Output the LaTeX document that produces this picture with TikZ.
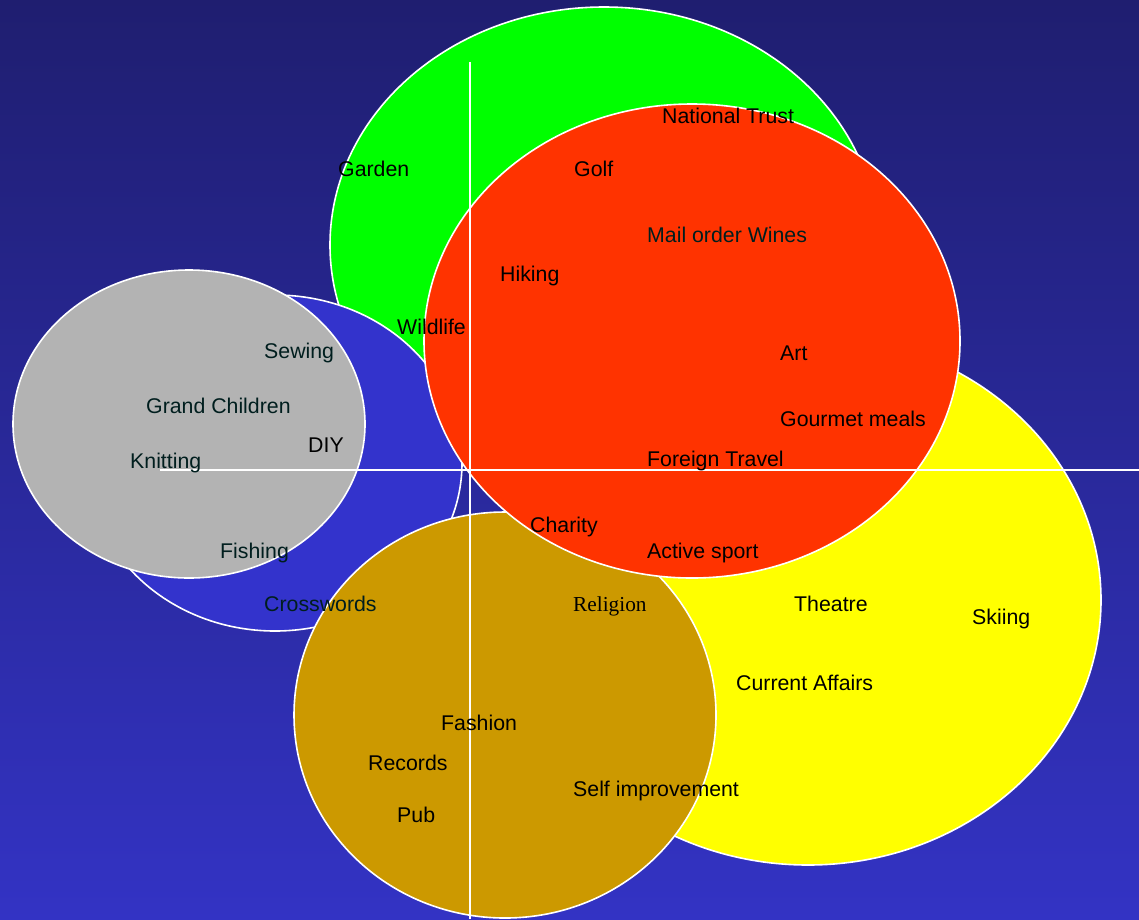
\documentclass[tikz,border=0pt]{standalone}
\usepackage{fontspec}
\setmainfont{Liberation Sans}
\newfontfamily\serifface{Liberation Serif}
\definecolor{bgtop}{RGB}{31,30,112}
\definecolor{bgbot}{RGB}{51,51,196}
\definecolor{cgreen}{RGB}{0,255,0}
\definecolor{cred}{RGB}{255,51,0}
\definecolor{cyellow}{RGB}{255,255,0}
\definecolor{cblue}{RGB}{51,51,204}
\definecolor{cbrown}{RGB}{204,153,0}
\definecolor{cgrey}{RGB}{179,179,179}
\definecolor{darktext}{RGB}{0,30,30}
\begin{document}
\begin{tikzpicture}[x=1pt,y=-1pt,
  blob/.style={draw=white,line width=1.6pt},
  axis/.style={draw=white,line width=1.6pt},
  lbl/.style={anchor=base west,inner sep=0pt,font=\fontsize{21.3}{25}\selectfont,text=black},
  dlbl/.style={lbl,text=darktext}]
\useasboundingbox (0,0) rectangle (1139,919);
\shade[top color=bgtop,bottom color=bgbot] (0,0) rectangle (1139,919);
% circles
\draw[blob,fill=cgreen] (604,245) ellipse [x radius=274,y radius=238];
\draw[blob,fill=cyellow] (808,600) ellipse [x radius=293,y radius=265];
\draw[blob,fill=cblue] (275,463) ellipse [x radius=187,y radius=168];
\draw[blob,fill=cbrown] (505,715) ellipse [x radius=211,y radius=203];
\draw[blob,fill=cred] (692,341) ellipse [x radius=268,y radius=237];
\draw[blob,fill=cgrey] (189,424) ellipse [x radius=176,y radius=154];
% axes
\coordinate (vtop) at (470,62);
\coordinate (vbot) at (470,919);
\coordinate (hleft) at (160,470);
\coordinate (hright) at (1139,470);
\draw[axis] (vtop) -- (vbot);
\draw[axis] (hleft) -- (hright);
% labels
\node[lbl] (nt) at (662,123) {National Trust};
\node[lbl] (garden) at (338,176) {Garden};
\node[lbl] (golf) at (574,176) {Golf};
\node[dlbl] (wines) at (647,242) {Mail order Wines};
\node[lbl] (hiking) at (500,281) {Hiking};
\node[lbl] (wildlife) at (397,334) {Wildlife};
\node[lbl] (art) at (780,360) {Art};
\node[dlbl] (sewing) at (264,358) {Sewing};
\node[dlbl] (grand) at (146,413) {Grand Children};
\node[lbl] (gourmet) at (780,426) {Gourmet meals};
\node[lbl] (diy) at (308,452) {DIY};
\node[lbl] (travel) at (647,466) {Foreign Travel};
\node[dlbl] (knitting) at (130,468) {Knitting};
\node[lbl] (charity) at (530,532) {Charity};
\node[dlbl] (fishing) at (220,558) {Fishing};
\node[lbl] (active) at (647,558) {Active sport};
\node[dlbl] (cross) at (264,611) {Crosswords};
\node[lbl,font=\serifface\fontsize{21.3}{25}\selectfont] (religion) at (573,611) {Religion};
\node[lbl] (theatre) at (794,611) {Theatre};
\node[lbl] (skiing) at (972,624) {Skiing};
\node[lbl] (affairs) at (736,690) {Current Affairs};
\node[lbl] (fashion) at (441,730) {Fashion};
\node[lbl] (records) at (368,770) {Records};
\node[lbl] (pub) at (397,822) {Pub};
\node[lbl] (self) at (573,796) {Self improvement};
\end{tikzpicture}
\end{document}
